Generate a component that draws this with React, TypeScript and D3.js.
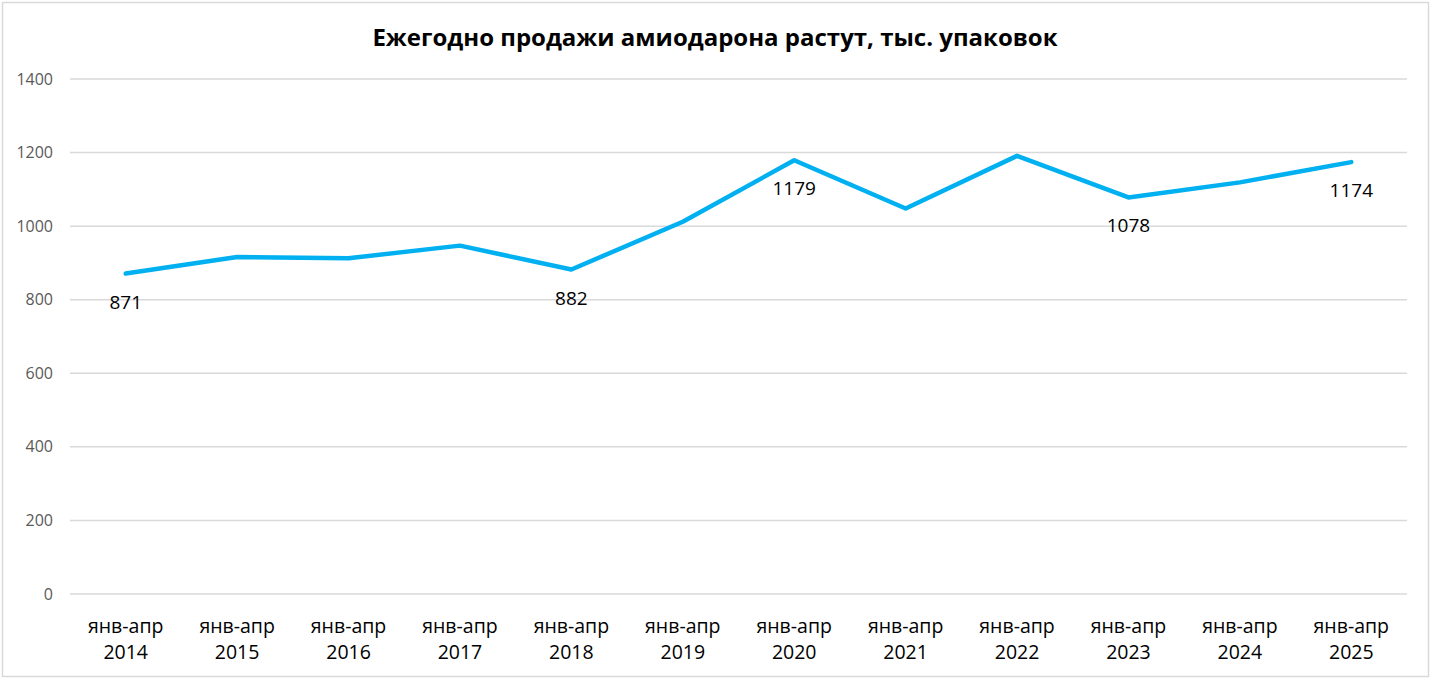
import React from "react";
import * as d3 from "d3";

const categories = ["2014","2015","2016","2017","2018","2019","2020","2021","2022","2023","2024","2025"];
const catPrefix = "янв-апр";
const values = [871, 916, 913, 947, 882, 1012, 1179, 1048, 1191, 1078, 1119, 1174];
const labeledYears = ["2014","2018","2020","2023","2025"];
const yTicks = [0, 200, 400, 600, 800, 1000, 1200, 1400];
const title = "Ежегодно продажи амиодарона растут, тыс. упаковок";

export default function App() {
  const W = 1431, H = 679;
  const left = 70, right = 1407, top = 79, bottom = 594;
  const x = d3.scaleBand<string>().domain(categories).range([left, right]);
  const y = d3.scaleLinear().domain([0, 1400]).range([bottom, top]);
  const cx = (c: string) => (x(c) as number) + x.bandwidth() / 2;
  const line = d3.line<number>().x((_, i) => cx(categories[i])).y((d) => y(d));
  const font = "'Open Sans', sans-serif";
  return (
    <svg width={W} height={H} style={{ position: "absolute", left: 0, top: 0, display: "block" }} fontFamily={font}>
      <rect x={0} y={0} width={W} height={H} fill="#fff" />
      <rect x={2.5} y={2.5} width={W - 5} height={H - 5} fill="none" stroke="#d9d9d9" strokeWidth={1.5} />
      <text x={715} y={46} textAnchor="middle" fontSize={24} fontWeight="bold" fill="#000">{title}</text>
      {yTicks.map((t) => (
        <g key={t}>
          <line x1={left} x2={right} y1={y(t)} y2={y(t)} stroke="#d9d9d9" strokeWidth={1.5} />
          <text x={53} y={y(t) + 5.5} textAnchor="end" fontSize={16} fill="#595959">{t}</text>
        </g>
      ))}
      {categories.map((c) => (
        <g key={c}>
          <text x={cx(c)} y={633} textAnchor="middle" fontSize={19.5} fill="#000">{catPrefix}</text>
          <text x={cx(c)} y={659} textAnchor="middle" fontSize={19.5} fill="#000">{c}</text>
        </g>
      ))}
      <path d={line(values) || ""} fill="none" stroke="#00b0f0" strokeWidth={4.5} strokeLinejoin="round" strokeLinecap="round" />
      {categories.map((c, i) =>
        labeledYears.includes(c) ? (
          <text key={c} x={cx(c)} y={y(values[i]) + 35} textAnchor="middle" fontSize={19} fill="#000">{values[i]}</text>
        ) : null
      )}
    </svg>
  );
}
